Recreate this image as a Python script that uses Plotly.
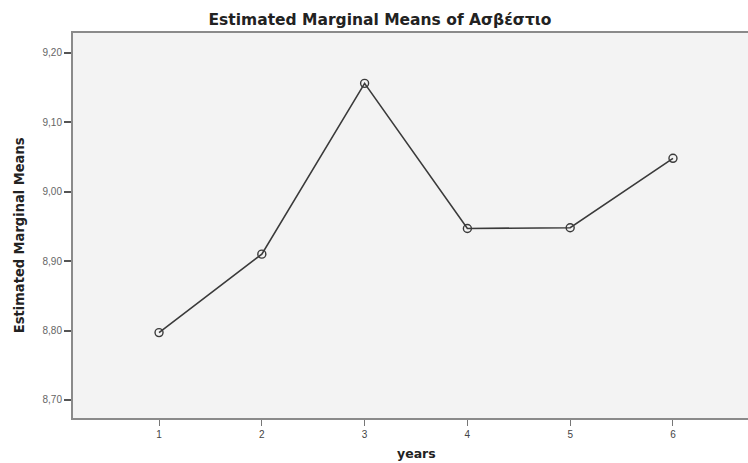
import plotly.graph_objects as go

years = [1, 2, 3, 4, 5, 6]
means = [8.797, 8.910, 9.156, 8.947, 8.948, 9.048]
y_ticks = [8.70, 8.80, 8.90, 9.00, 9.10, 9.20]

fig = go.Figure()
fig.add_trace(go.Scatter(
    x=years, y=means, mode="lines+markers",
    line=dict(color="#3a3a3a", width=1.6),
    marker=dict(symbol="circle-open", size=8, color="#3a3a3a", line=dict(width=1.4)),
    showlegend=False,
))

fig.update_layout(
    width=748, height=463,
    autosize=False,
    margin=dict(l=73, r=0, t=33, b=45, pad=0, autoexpand=False),
    paper_bgcolor="white",
    plot_bgcolor="#f3f3f3",
    separators=",.",
    font=dict(family="Liberation Sans, Arial, sans-serif", color="#555555", size=10),
    title=dict(text="<b>Estimated Marginal Means of Ασβέστιο</b>",
               x=0.508, xanchor="center", y=0.957, yanchor="middle",
               font=dict(size=15.5, color="#222222", family="DejaVu Sans, sans-serif")),
    xaxis=dict(
        range=[0.163, 6.73], tickmode="array", tickvals=years,
        ticks="outside", ticklen=6, tickcolor="#777777", tickwidth=1,
        showline=True, linecolor="#8a8a8a", linewidth=2, mirror=True,
        showgrid=False, zeroline=False, automargin=False,
        tickfont=dict(size=10, color="#444444"),
    ),
    yaxis=dict(
        range=[8.674, 9.2285], tickmode="array", tickvals=y_ticks, tickformat=".2f",
        ticks="outside", ticklen=7, tickcolor="#555555", tickwidth=1.5,
        showline=True, linecolor="#8a8a8a", linewidth=2,
        showgrid=False, zeroline=False, automargin=False,
        tickfont=dict(size=10, color="#666666"),
    ),
    annotations=[
        dict(text="<b>years</b>", xref="paper", yref="paper", x=0.5096, y=-0.0935,
             xanchor="center", yanchor="middle", showarrow=False,
             font=dict(size=12.5, color="#222222", family="DejaVu Sans, sans-serif")),
        dict(text="<b>Estimated Marginal Means</b>", xref="paper", yref="paper",
             x=-0.08, y=0.475, xanchor="center", yanchor="middle", textangle=-90,
             showarrow=False,
             font=dict(size=14.5, color="#222222", family="DejaVu Sans Condensed, Liberation Sans Narrow, sans-serif")),
    ],
)

fig.write_html("out.html", config={"responsive": False, "displayModeBar": False},
               post_script="document.body.style.margin='0';document.body.style.overflow='hidden';")
